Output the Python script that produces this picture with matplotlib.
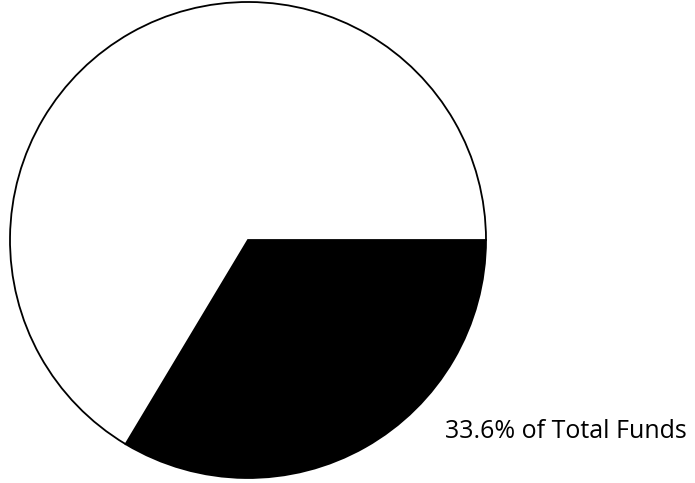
import matplotlib
matplotlib.use("Agg")
import matplotlib.pyplot as plt

# share of total funds
labels = ["Share", "Rest"]
shares = [33.6, 66.4]
label_text = "33.6% of Total Funds"

W, H = 695, 483
fig = plt.figure(figsize=(W / 100, H / 100), dpi=100)
ax = fig.add_axes([0, 0, 1, 1])

ax.pie(shares, colors=["black", "white"], startangle=0, counterclock=False,
       center=(248, 243), radius=238, frame=True,
       wedgeprops=dict(edgecolor="black", linewidth=1.3))
ax.set_xlim(0, W)
ax.set_ylim(0, H)
ax.set_aspect("equal")
ax.axis("off")

ax.text(445, 45, label_text, ha="left", va="baseline",
        fontsize=18, family=["Open Sans", "DejaVu Sans"], color="black")

fig.savefig("out.png", dpi=100, facecolor="white")
